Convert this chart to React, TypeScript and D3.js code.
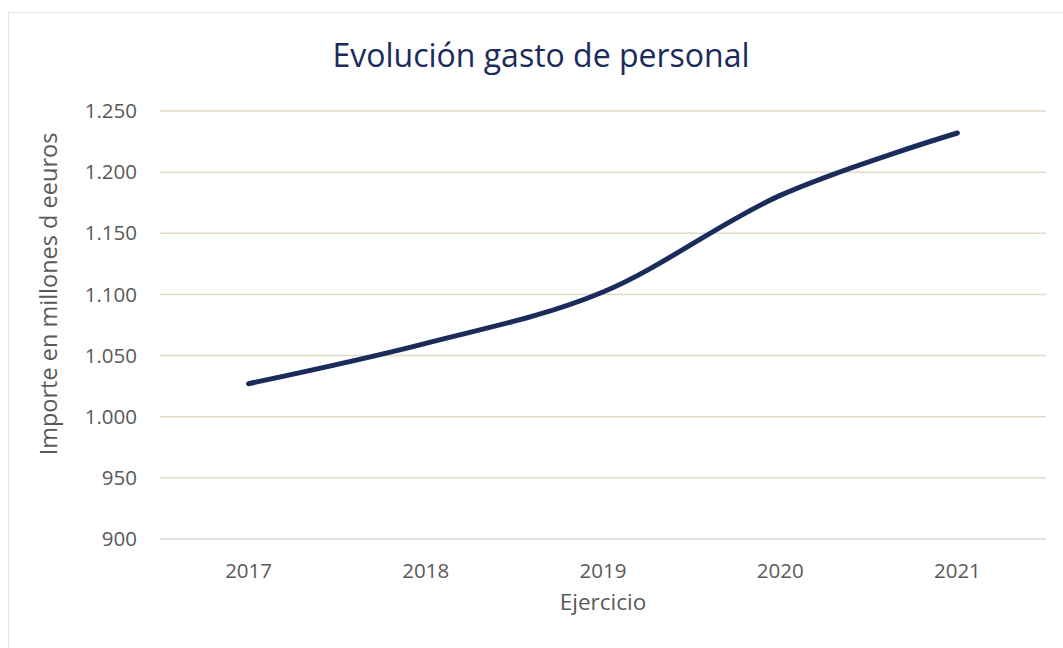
import React from "react";
import * as d3 from "d3";

const years = ["2017", "2018", "2019", "2020", "2021"];
const gasto = [1027, 1060, 1102, 1181, 1232];
const yTicks = [900, 950, 1000, 1050, 1100, 1150, 1200, 1250];

const W = 1063;
const H = 648;
const font = "'Open Sans', Carlito, Calibri, sans-serif";

function App() {
  const margin = { top: 111, right: 17, bottom: 109, left: 160 };
  const innerW = W - margin.left - margin.right;
  const innerH = H - margin.top - margin.bottom;

  const x = d3.scaleBand().domain(years).range([0, innerW]);
  const y = d3.scaleLinear().domain([900, 1250]).range([innerH, 0]);

  const line = d3
    .line<number>()
    .x((d, i) => (x(years[i]) as number) + x.bandwidth() / 2)
    .y((d) => y(d))
    .curve(d3.curveCatmullRom.alpha(0));

  const fmt = (v: number) => d3.format(",")(v).replace(/,/g, ".");

  return (
    <svg
      width={W}
      height={H}
      style={{ position: "absolute", left: 0, top: 0, background: "#fff" }}
    >
      <rect x={8.5} y={12.5} width={W + 10} height={H + 10} fill="#fff" stroke="#ece5d6" strokeWidth={1} />
      <text
        x={541}
        y={67}
        textAnchor="middle"
        fontFamily={font}
        fontSize={32}
        fill="#1a2b5c"
      >
        Evolución gasto de personal
      </text>
      <g transform={`translate(${margin.left},${margin.top})`}>
        {yTicks.map((t) => (
          <line
            key={t}
            x1={0}
            x2={innerW}
            y1={y(t)}
            y2={y(t)}
            stroke={t === 900 ? "#d9d9d9" : "#e3d9c4"}
            strokeWidth={1.5}
          />
        ))}
        {yTicks.map((t) => (
          <text
            key={"l" + t}
            x={-23}
            y={y(t)}
            dy="0.35em"
            textAnchor="end"
            fontFamily={font}
            fontSize={20.5}
            fill="#595959"
          >
            {fmt(t)}
          </text>
        ))}
        {years.map((yr) => (
          <text
            key={yr}
            x={(x(yr) as number) + x.bandwidth() / 2}
            y={innerH + 32}
            dy="0.35em"
            textAnchor="middle"
            fontFamily={font}
            fontSize={20.5}
            fill="#595959"
          >
            {yr}
          </text>
        ))}
        <path
          d={line(gasto) || ""}
          fill="none"
          stroke="#1a2b5c"
          strokeWidth={5}
          strokeLinecap="round"
        />
      </g>
      <text
        x={margin.left + innerW / 2}
        y={602}
        dy="0.35em"
        textAnchor="middle"
        fontFamily={font}
        fontSize={22.5}
        fill="#595959"
      >
        Ejercicio
      </text>
      <text
        transform={`translate(49,${margin.top + 183}) rotate(-90)`}
        dy="0.35em"
        textAnchor="middle"
        fontFamily={font}
        fontSize={23.5}
        fill="#595959"
      >
        Importe en millones d eeuros
      </text>
    </svg>
  );
}

export default App;
